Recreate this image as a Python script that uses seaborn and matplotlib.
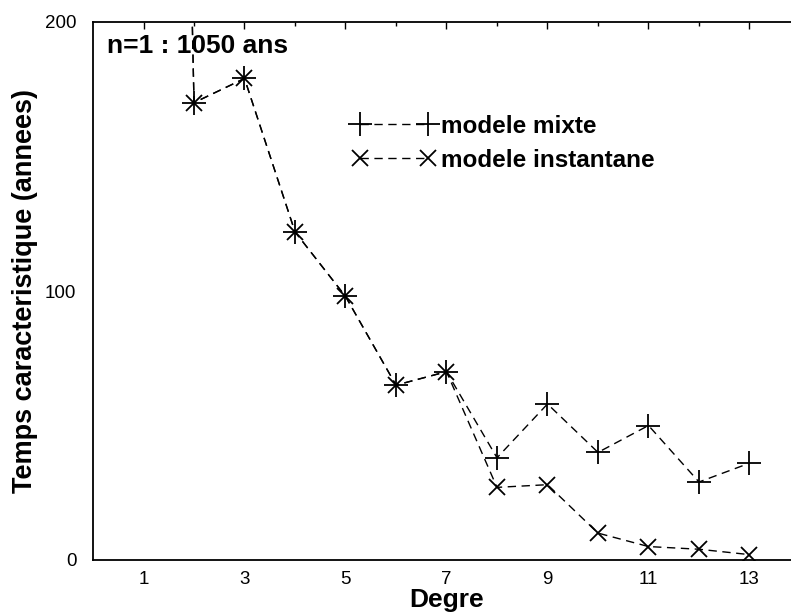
import matplotlib
matplotlib.use("Agg")
import matplotlib.pyplot as plt
import numpy as np
import pandas as pd
import seaborn as sns

# data
degre = [1, 2, 3, 4, 5, 6, 7, 8, 9, 10, 11, 12, 13]
mixte = [1050, 170, 179, 122, 98, 65, 70, 38, 58, 40, 50, 29, 36]
instantane = [1050, 170, 179, 122, 98, 65, 70, 27, 28, 10, 5, 4, 2]

x_major = [1, 3, 5, 7, 9, 11, 13]
x_minor = [2, 4, 6, 8, 10, 12]
y_major = [0, 100, 200]
y_minor = [20, 40, 60, 80, 120, 140, 160, 180]

sns.set_style("white")
plt.rcParams["font.family"] = ["Liberation Sans", "DejaVu Sans"]
plt.rcParams.update({"text.color": "black", "axes.labelcolor": "black",
                     "xtick.color": "black", "ytick.color": "black"})

fig = plt.figure(figsize=(7.91, 6.13), dpi=100)
ax = fig.add_axes([93 / 791, 53 / 613, 707 / 791, 538 / 613])

line_kw = dict(color="black", linestyle=(0, (6, 4)), linewidth=1.0,
               markeredgewidth=1.3, markeredgecolor="black", errorbar=None)
sns.lineplot(x=degre, y=mixte, ax=ax, marker="+", markersize=17,
             label="modele mixte", **line_kw)
sns.lineplot(x=degre, y=instantane, ax=ax, marker="x", markersize=12,
             label="modele instantane", **line_kw)

ax.set_xlim(0, 14)
ax.set_ylim(0, 200)
ax.set_xticks(x_major)
ax.set_xticks(x_minor, minor=True)
ax.set_yticks(y_major)
ax.set_yticks(y_minor, minor=True)
ax.tick_params(axis="both", which="both", direction="in", top=True,
               right=False, labelsize=13.5, width=1.0)
ax.tick_params(axis="x", which="major", length=5)
ax.tick_params(axis="x", which="minor", length=3)
ax.tick_params(axis="y", which="both", length=4)
ax.tick_params(axis="x", pad=8)
ax.tick_params(axis="y", pad=12)

for side in ["left", "bottom", "top"]:
    ax.spines[side].set_color("black")
    ax.spines[side].set_linewidth(1.3)
ax.spines["right"].set_visible(False)

ax.set_xlabel("Degre", fontsize=19, fontweight="bold", labelpad=0)
ax.set_ylabel("Temps caracteristique (annees)", fontsize=19.5,
              fontweight="bold")
ax.yaxis.set_label_coords(-0.078, 0.5)

ax.text(0.02, 0.955, "n=1 : 1050 ans", transform=ax.transAxes,
        fontsize=19, fontweight="bold", va="center", ha="left")

leg = ax.legend(loc="upper left", bbox_to_anchor=(0.35, 0.85), frameon=False,
                numpoints=2, handlelength=3.4, handletextpad=0.25,
                labelspacing=0.45, borderpad=0, prop={"size": 17.5, "weight": "bold"})

fig.savefig("out.png", dpi=100)
